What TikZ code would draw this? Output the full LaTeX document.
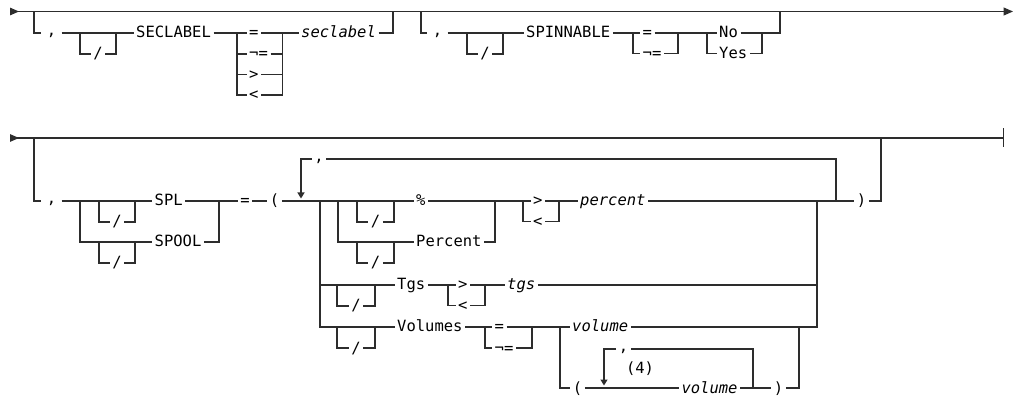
\documentclass[tikz,border=0pt]{standalone}
\usepackage{fontspec}
\usepackage{tikz}
\usetikzlibrary{arrows.meta}
\newfontfamily\railfont{DejaVu Sans Mono}
\newcommand{\railsize}{\fontsize{15.5pt}{18pt}\selectfont}
\newcommand{\railcomma}{\raisebox{2.5pt}{,}}
\definecolor{railgray}{RGB}{45, 45, 45}

\begin{document}
\begin{tikzpicture}[
  x=1pt, y=-1pt,
  every node/.style={font=\railfont\railsize, inner xsep=2.5pt, inner ysep=0pt,
                     text height=10pt, text depth=0pt},
  var/.style={font=\railfont\itshape\railsize},
  lead/.style={minimum width=20pt},
  rail/.style={draw=railgray, line width=1.2pt},
  firstrail/.style={rail, {Triangle[reversed, length=9pt, width=7.5pt]}-{Triangle[length=9.5pt, width=8pt]}},
  lastrail/.style={rail, {Triangle[reversed, length=9pt, width=7.5pt]}-{Bar[width=19pt, line width=1.4pt]}},
  loopback/.style={rail, -{Triangle[length=6pt, width=7pt]}, shorten >=2.5pt}
]
  \useasboundingbox (0,0) rectangle (1015,403);

  % first line
  \coordinate (r1s) at (10,11.5);
  \coordinate (r1e) at (1013,11.5);
  \draw[firstrail] (r1s) -- (r1e);

  \coordinate (a0) at (34,11.5);
  \coordinate (a1) at (34,33);
  \node[lead] (comA) at (51.5,33) {\railcomma};
  \node[anchor=west] (seclab) at (133.5,33) {SECLABEL};
  \coordinate (opL) at (237,33);
  \coordinate (opR) at (282.5,33);
  \node[anchor=west] (opeq) at (246.5,33) {=};
  \node[anchor=west] (opne) at (246.5,54) {¬=};
  \node[anchor=west] (opgt) at (246.5,74.5) {>};
  \node[anchor=west] (oplt) at (246.5,95) {<};
  \node[var, anchor=west] (seclabv) at (298.5,33) {seclabel};
  \coordinate (a2) at (393,33);
  \coordinate (a3) at (393,11.5);

  \draw[rail] (a0) -- (a1) -- (comA) -- (seclab) -- (opL) -- (opeq) -- (opR)
              -- (seclabv) -- (a2) -- (a3);
  \draw[rail] (opL) |- (oplt) -| (opR);
  \foreach \op in {opne, opgt}
    \draw[rail] (opL |- \op) -- (\op) -- (opR |- \op);

  \coordinate (b0) at (421,11.5);
  \coordinate (b1) at (421,33);
  \node[lead] (comB) at (437.5,33) {\railcomma};
  \node[anchor=west] (spin) at (523.5,33) {SPINNABLE};
  \coordinate (eqL) at (633,33);
  \coordinate (eqR) at (678,33);
  \node[anchor=west] (spineq) at (640,33) {=};
  \node[anchor=west] (spinne) at (640,53.5) {¬=};
  \coordinate (ynL) at (707,33);
  \coordinate (ynR) at (762,33);
  \node[anchor=west] (no) at (716.5,33) {No};
  \node[anchor=west] (yes) at (716.5,53.5) {Yes};
  \coordinate (b2) at (780,33);
  \coordinate (b3) at (780,11.5);

  \draw[rail] (b0) -- (b1) -- (comB) -- (spin) -- (eqL) -- (spineq) -- (eqR)
              -- (ynL) -- (no) -- (ynR) -- (b2) -- (b3);
  \draw[rail] (eqL) |- (spinne) -| (eqR);
  \draw[rail] (ynL) |- (yes) -| (ynR);

  % second line
  \coordinate (r2s) at (10,138);
  \coordinate (r2e) at (1004,138);
  \draw[lastrail] (r2s) -- (r2e);
  \coordinate (dk1) at (886,138);
  \coordinate (dk2) at (903,138);
  \draw[rail, line width=2.2pt] (dk1) -- (dk2);

  \coordinate (c0) at (34,138);
  \coordinate (c1) at (34,201);
  \node[lead] (comC) at (51.5,201) {\railcomma};
  \coordinate (splL) at (80,201);
  \coordinate (splR) at (219,201);
  \node[anchor=west] (spl) at (152,201) {SPL};
  \node[anchor=west] (spool) at (152,242) {SPOOL};
  \node (eqsp) at (245,201) {=};
  \node (lpar) at (274.5,201) {(};
  \coordinate (rep) at (301,201);
  \coordinate (repT) at (301,159);
  \node (comR) at (319,159) {\railcomma};
  \coordinate (repE) at (836,159);
  \coordinate (repB) at (836,201);
  \coordinate (grpL) at (320,201);
  \coordinate (grpR) at (817,201);
  \coordinate (pctL) at (338,201);
  \coordinate (pctR) at (495,201);
  \node[anchor=west] (pctsym) at (413.5,201) {\%};
  \node[anchor=west] (pctkw) at (413.5,242) {Percent};
  \coordinate (cmpL) at (523,201);
  \coordinate (cmpR) at (559,201);
  \node[anchor=west] (pgt) at (530.5,201) {>};
  \node[anchor=west] (plt) at (530.5,221.5) {<};
  \node[var, anchor=west] (pctv) at (577.5,201) {percent};
  \node (rpar) at (861.5,201) {)};
  \coordinate (c2) at (881,201);
  \coordinate (c3) at (881,138);

  \draw[rail] (c0) -- (c1) -- (comC) -- (spl) -- (splR) -- (eqsp) -- (lpar)
              -- (pctsym) -- (pctR) -- (pgt) -- (cmpR) -- (pctv) -- (rpar)
              -- (c2) -- (c3);
  \draw[rail] (splL) |- (spool) -| (splR);
  \draw[rail] (pctL) |- (pctkw) -| (pctR);
  \draw[rail] (cmpL) |- (plt) -| (cmpR);
  \draw[loopback] (repB) -- (repE) -- (comR) -- (repT) -- (rep);

  \coordinate (tgsL) at (320,285);
  \node[anchor=west] (tgs) at (394.5,285) {Tgs};
  \coordinate (tcL) at (448,285);
  \coordinate (tcR) at (485,285);
  \node[anchor=west] (tgt) at (455.5,285) {>};
  \node[anchor=west] (tlt) at (455.5,305.5) {<};
  \node[var, anchor=west] (tgsv) at (504.5,285) {tgs};
  \coordinate (tgsR) at (817,285);

  \draw[rail] (tgsL) -- (tgs) -- (tcL) -- (tgt) -- (tcR) -- (tgsv) -- (tgsR);
  \draw[rail] (tcL) |- (tlt) -| (tcR);

  \node[anchor=west] (vols) at (394.5,327) {Volumes};
  \coordinate (veL) at (485,327);
  \coordinate (veR) at (532,327);
  \node[anchor=west] (veq) at (492,327) {=};
  \node[anchor=west] (vne) at (492,348) {¬=};
  \coordinate (vaL) at (560,327);
  \coordinate (vaR) at (799,327);
  \node[var, anchor=west] (volv) at (569.5,327) {volume};
  \coordinate (volR) at (817,327);

  \draw[rail] (grpL) |- (vols) -- (veL) -- (veq) -- (veR) -- (volv) -- (volR)
              -- (grpR);
  \draw[rail] (veL) |- (vne) -| (veR);

  \node (lparv) at (577.5,388) {(};
  \coordinate (vrep) at (604,388);
  \coordinate (vrepT) at (604,349);
  \node (comV) at (623.5,349) {\railcomma};
  \node (fn) at (640,368.5) {(4)};
  \node[var] (volv2) at (709.5,388) {volume};
  \coordinate (vrepE) at (753,349);
  \coordinate (vrepB) at (753,388);
  \node (rparv) at (778.5,388) {)};

  \draw[rail] (vaL) |- (lparv) -- (volv2) -- (rparv) -| (vaR);
  \draw[loopback] (vrepB) -- (vrepE) -- (comV) -- (vrepT) -- (vrep);

  % optional slash bypasses
  \foreach \sl/\xa/\xb/\yy in {slA/80/116/33, slB/467/503/33,
                               slC/99/135/201, slD/99/135/242,
                               slE/357/394/201, slF/357/394/242,
                               slG/337/375/285, slH/337/375/327} {
    \coordinate (\sl l) at (\xa,\yy);
    \coordinate (\sl r) at (\xb,\yy);
    \node (\sl) at ({(\xa+\xb)/2},\yy+21) {/};
    \draw[rail] (\sl l) |- (\sl) -| (\sl r);
  }
\end{tikzpicture}
\end{document}
